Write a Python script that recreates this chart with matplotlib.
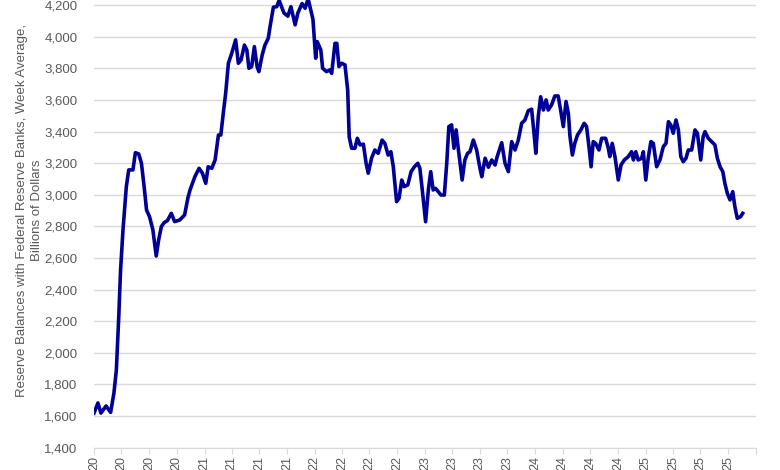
import matplotlib
matplotlib.use('Agg')
import matplotlib.pyplot as plt
import pandas as pd

# weekly average reserve balances, billions of dollars
dates = [
    '2020-01-01', '2020-01-14', '2020-01-24', '2020-02-10', '2020-02-25', '2020-03-07',
    '2020-03-15', '2020-03-23', '2020-03-29', '2020-04-06', '2020-04-17', '2020-04-25',
    '2020-05-09', '2020-05-17', '2020-05-28', '2020-06-06', '2020-06-15', '2020-06-23',
    '2020-07-03', '2020-07-14', '2020-07-25', '2020-08-02', '2020-08-11', '2020-08-20',
    '2020-08-31', '2020-09-13', '2020-09-24', '2020-10-11', '2020-10-27', '2020-11-07',
    '2020-11-14', '2020-11-30', '2020-12-14', '2020-12-25', '2021-01-05', '2021-01-13',
    '2021-01-25', '2021-02-05', '2021-02-16', '2021-02-24', '2021-03-04', '2021-03-12',
    '2021-03-21', '2021-04-01', '2021-04-14', '2021-04-23', '2021-05-02', '2021-05-13',
    '2021-05-21', '2021-05-28', '2021-06-06', '2021-06-15', '2021-06-24', '2021-06-30',
    '2021-07-11', '2021-07-20', '2021-07-31', '2021-08-06', '2021-08-17', '2021-08-28',
    '2021-09-05', '2021-09-21', '2021-10-04', '2021-10-14', '2021-10-28', '2021-11-06',
    '2021-11-20', '2021-11-30', '2021-12-10', '2021-12-26', '2022-01-04', '2022-01-09',
    '2022-01-21', '2022-01-27', '2022-02-09', '2022-02-20', '2022-02-26', '2022-03-09',
    '2022-03-15', '2022-03-22', '2022-03-31', '2022-04-11', '2022-04-20', '2022-04-25',
    '2022-05-03', '2022-05-14', '2022-05-22', '2022-05-31', '2022-06-11', '2022-06-20',
    '2022-06-27', '2022-07-08', '2022-07-19', '2022-07-30', '2022-08-12', '2022-08-21',
    '2022-09-01', '2022-09-10', '2022-09-18', '2022-09-29', '2022-10-07', '2022-10-16',
    '2022-10-24', '2022-11-05', '2022-11-16', '2022-11-27', '2022-12-08', '2022-12-15',
    '2022-12-23', '2023-01-03', '2023-01-12', '2023-01-20', '2023-01-28', '2023-02-05',
    '2023-02-14', '2023-02-23', '2023-03-06', '2023-03-14', '2023-03-21', '2023-03-30',
    '2023-04-07', '2023-04-14', '2023-04-21', '2023-05-04', '2023-05-13', '2023-05-22',
    '2023-05-30', '2023-06-10', '2023-06-21', '2023-07-02', '2023-07-08', '2023-07-19',
    '2023-07-30', '2023-08-10', '2023-08-21', '2023-08-28', '2023-09-12', '2023-09-23',
    '2023-10-04', '2023-10-15', '2023-10-26', '2023-11-06', '2023-11-17', '2023-11-28',
    '2023-12-09', '2023-12-20', '2023-12-28', '2024-01-03', '2024-01-11', '2024-01-19',
    '2024-01-28', '2024-02-06', '2024-02-13', '2024-02-24', '2024-03-06', '2024-03-17',
    '2024-03-25', '2024-04-03', '2024-04-12', '2024-04-20', '2024-04-25', '2024-05-03',
    '2024-05-11', '2024-05-20', '2024-05-31', '2024-06-11', '2024-06-19', '2024-06-27',
    '2024-07-04', '2024-07-11', '2024-07-19', '2024-07-30', '2024-08-08', '2024-08-21',
    '2024-08-30', '2024-09-04', '2024-09-12', '2024-09-21', '2024-10-02', '2024-10-11',
    '2024-10-22', '2024-11-04', '2024-11-15', '2024-11-21', '2024-11-29', '2024-12-07',
    '2024-12-18', '2024-12-24', '2025-01-01', '2025-01-09', '2025-01-18', '2025-01-26',
    '2025-02-06', '2025-02-17', '2025-02-28', '2025-03-09', '2025-03-17', '2025-03-25',
    '2025-04-02', '2025-04-11', '2025-04-19', '2025-04-27', '2025-05-05', '2025-05-14',
    '2025-05-22', '2025-06-02', '2025-06-13', '2025-06-21', '2025-07-02', '2025-07-10',
    '2025-07-16', '2025-07-27', '2025-08-07', '2025-08-18', '2025-08-26', '2025-09-04',
    '2025-09-13', '2025-09-20', '2025-09-28', '2025-10-07', '2025-10-16', '2025-10-23',
    '2025-10-31', '2025-11-11', '2025-11-18',
]
reserves = [
    1618, 1682, 1618, 1663, 1622, 1745,
    1890, 2228, 2524, 2777, 3051, 3157,
    3157, 3266, 3258, 3200, 3051, 2903,
    2860, 2777, 2612, 2713, 2798, 2823,
    2836, 2882, 2830, 2840, 2872, 2980,
    3030, 3114, 3167, 3136, 3072, 3177,
    3167, 3220, 3378, 3378, 3515, 3642,
    3832, 3895, 3980, 3832, 3853, 3947,
    3916, 3800, 3811, 3937, 3811, 3779,
    3885, 3947, 3990, 4064, 4187, 4190,
    4230, 4150, 4130, 4190, 4075, 4150,
    4210, 4180, 4240, 4110, 3864, 3969,
    3916, 3800, 3779, 3790, 3768, 3958,
    3958, 3811, 3832, 3822, 3663, 3367,
    3294, 3294, 3357, 3315, 3320, 3199,
    3136, 3231, 3283, 3262, 3346, 3325,
    3251, 3272, 3177, 2956, 2977, 3093,
    3051, 3062, 3146, 3177, 3199, 3167,
    3030, 2829, 3030, 3146, 3030, 3040,
    3019, 2998, 2998, 3199, 3431, 3442,
    3294, 3410, 3294, 3093, 3220, 3262,
    3272, 3346, 3283, 3167, 3114, 3231,
    3174, 3220, 3188, 3241, 3329, 3199,
    3146, 3336, 3283, 3346, 3452, 3473,
    3532, 3541, 3389, 3262, 3494, 3620,
    3536, 3600, 3536, 3568, 3625, 3625,
    3536, 3431, 3590, 3510, 3370, 3251,
    3325, 3378, 3410, 3452, 3431, 3304,
    3177, 3336, 3325, 3283, 3357, 3357,
    3294, 3241, 3325, 3241, 3093, 3188,
    3220, 3241, 3272, 3220, 3272, 3220,
    3230, 3272, 3093, 3230, 3336, 3325,
    3177, 3220, 3304, 3325, 3462, 3441,
    3389, 3473, 3410, 3241, 3209, 3230,
    3283, 3283, 3410, 3389, 3220, 3367,
    3399, 3357, 3336, 3315, 3231, 3177,
    3146, 3072, 3009, 2967, 3019, 2925,
    2851, 2861, 2882,
]

y_ticks = list(range(1400, 4201, 200))
ylabel = 'Reserve Balances with Federal Reserve Banks, Week Average,\nBillions of Dollars'

plt.rcParams['font.family'] = ['Liberation Sans', 'DejaVu Sans']

dt = pd.to_datetime(dates)
tick_dates = pd.date_range('2020-01-01', '2026-01-01', freq='QS')

fig = plt.figure(figsize=(7.8, 4.7), dpi=100)
# the reference is a crop of a taller chart, so the axes run past the top edge
ax = fig.add_axes([94 / 780, 22.5 / 470, (756 - 94) / 780, 1.0085])

ax.plot(dt, reserves, color='#000096', lw=2.6, solid_joinstyle='round')

ax.set_ylim(1400, 4400)
ax.set_yticks(y_ticks)
ax.set_yticklabels([f'{v:,}' for v in y_ticks])
ax.set_xlim(pd.Timestamp('2020-01-01'), pd.Timestamp('2026-01-01'))
ax.set_xticks(tick_dates)
ax.set_xticklabels([d.strftime('%y') if d.year < 2026 else '' for d in tick_dates],
                   rotation=90, va='top', ha='center')

ax.grid(axis='y', color='#d9d9d9', lw=1)
ax.set_axisbelow(True)
for s in ['top', 'right', 'left']:
    ax.spines[s].set_visible(False)
ax.spines['bottom'].set_color('#d9d9d9')
ax.tick_params(axis='y', length=0, pad=12, labelsize=9.5, labelcolor='#595959')
ax.tick_params(axis='x', length=4, color='#d9d9d9', pad=2, labelsize=9,
               labelcolor='#595959')

ax.set_ylabel(ylabel, fontsize=9.5, color='#595959', labelpad=1, linespacing=1.35)

fig.savefig('out.png', dpi=100)
